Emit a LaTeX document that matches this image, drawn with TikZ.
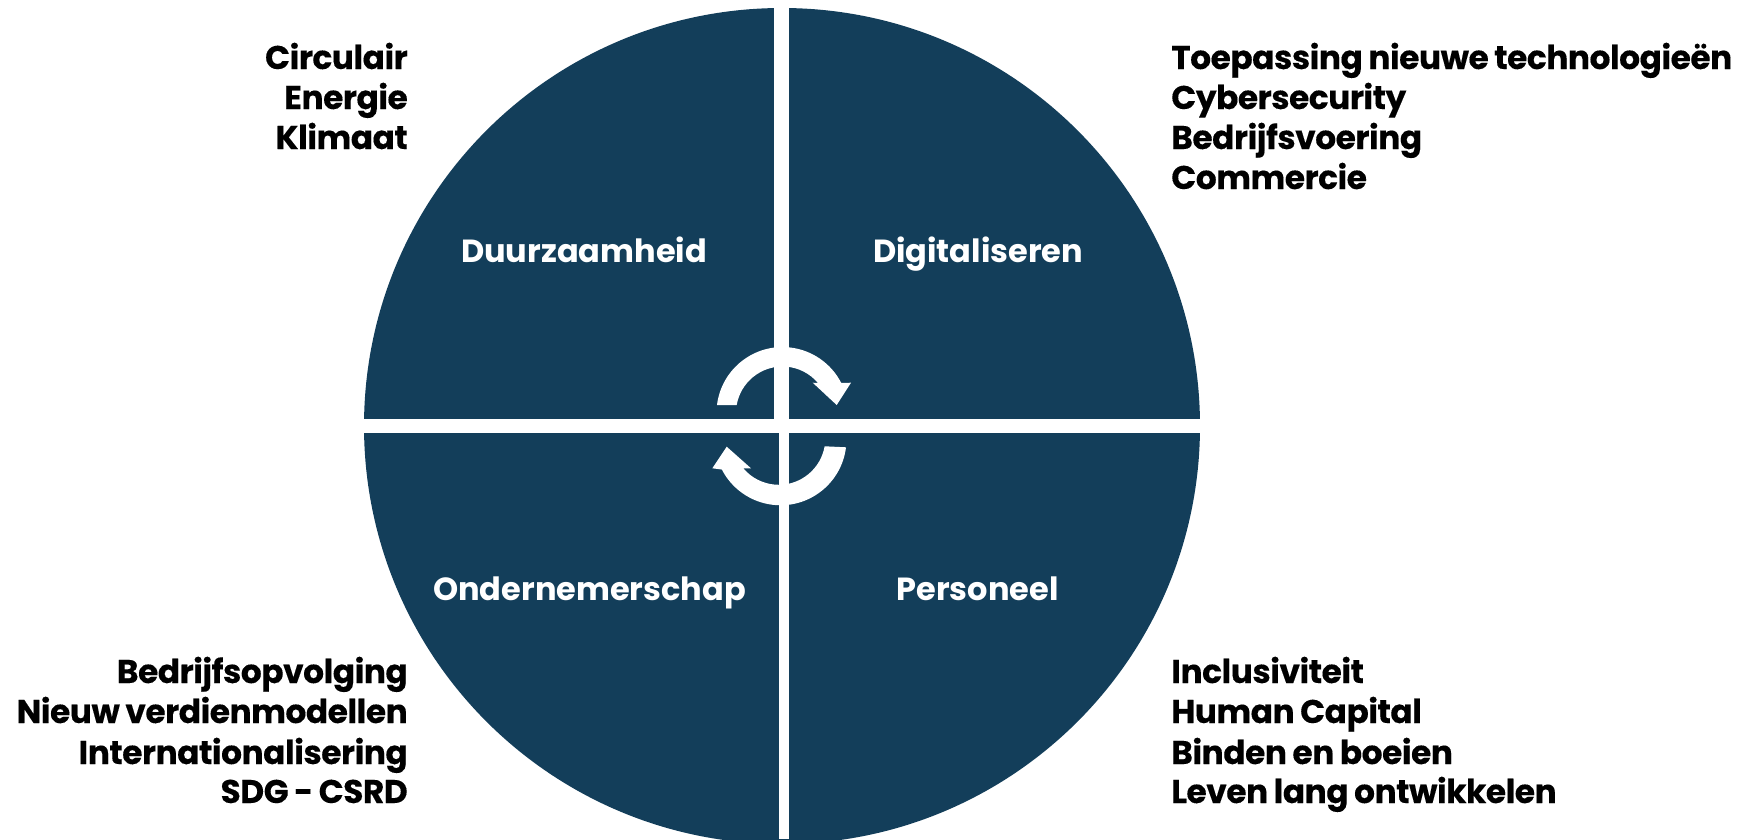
\documentclass[tikz,border=0pt]{standalone}
\usepackage{fontspec}
\setmainfont{Poppins}
\newfontfamily\sidefont[LetterSpace=-1.4,WordSpace=0.85,BoldFont={Poppins Bold},FakeBold=0.25]{Poppins Bold}
\newfontfamily\quadfont{Poppins Bold}
\definecolor{navy}{RGB}{19,62,90}
\begin{document}
\begin{tikzpicture}[x=0.75pt,y=-0.75pt,
  side/.style={inner sep=0pt,font=\fontsize{24.6pt}{30pt}\sidefont,text=black},
  lefttext/.style={side,anchor=base east},
  righttext/.style={side,anchor=base west},
  quad/.style={inner sep=0pt,anchor=base,text=white,font=\fontsize{24pt}{30pt}\quadfont},
  gap/.style={fill=white,draw=none}]
\useasboundingbox (0,0) rectangle (1741,839);
\begin{scope}
\clip (0,0) rectangle (1741,839);
\fill[navy] (782,426) circle [radius=418];
\fill[gap] (774.3,0) rectangle (789,425);
\fill[gap] (779,425) rectangle (789,839);
\fill[gap] (340,418.7) rectangle (1220,432.5);
\end{scope}
% cycle arrows
\fill[white] (717,405) arc [start angle=-173,end angle=-27.1,radius=66]
  -- (851,382.7) -- (836.7,405) -- (812.7,382.7) -- (818,383)
  arc [start angle=-40.2,end angle=-170.1,radius=46.5] -- cycle;
\fill[white] (846,447.3) arc [start angle=7,end angle=152.7,radius=66]
  -- (712.3,468.3) -- (726.7,446.7) -- (751,468.3) -- (743.3,468.3)
  arc [start angle=139.8,end angle=9.9,radius=46.5] -- cycle;
% quadrant labels
\node[quad] (q1) at (584,262) {Duurzaamheid};
\node[quad] (q2) at (978,262) {Digitaliseren};
\node[quad] (q3) at (589.5,600.5) {Ondernemerschap};
\node[quad] (q4) at (977.6,600.5) {Personeel};
% top left
\node[lefttext] (tl1) at (408,69) {Circulair};
\node[lefttext] (tl2) at (408,109) {Energie};
\node[lefttext] (tl3) at (408,149) {Klimaat};
% top right
\node[righttext] (tr1) at (1171,69) {Toepassing nieuwe technologieën};
\node[righttext] (tr2) at (1171,109) {Cybersecurity};
\node[righttext] (tr3) at (1171,149) {Bedrijfsvoering};
\node[righttext] (tr4) at (1171,189) {Commercie};
% bottom left
\node[lefttext] (bl1) at (408,683) {Bedrijfsopvolging};
\node[lefttext] (bl2) at (408,723) {Nieuw verdienmodellen};
\node[lefttext] (bl3) at (408,764) {Internationalisering};
\node[lefttext] (bl4) at (408,803) {SDG - CSRD};
% bottom right
\node[righttext] (br1) at (1171,683) {Inclusiviteit};
\node[righttext] (br2) at (1171,723) {Human Capital};
\node[righttext] (br3) at (1171,764) {Binden en boeien};
\node[righttext] (br4) at (1171,803) {Leven lang ontwikkelen};
\end{tikzpicture}
\end{document}
